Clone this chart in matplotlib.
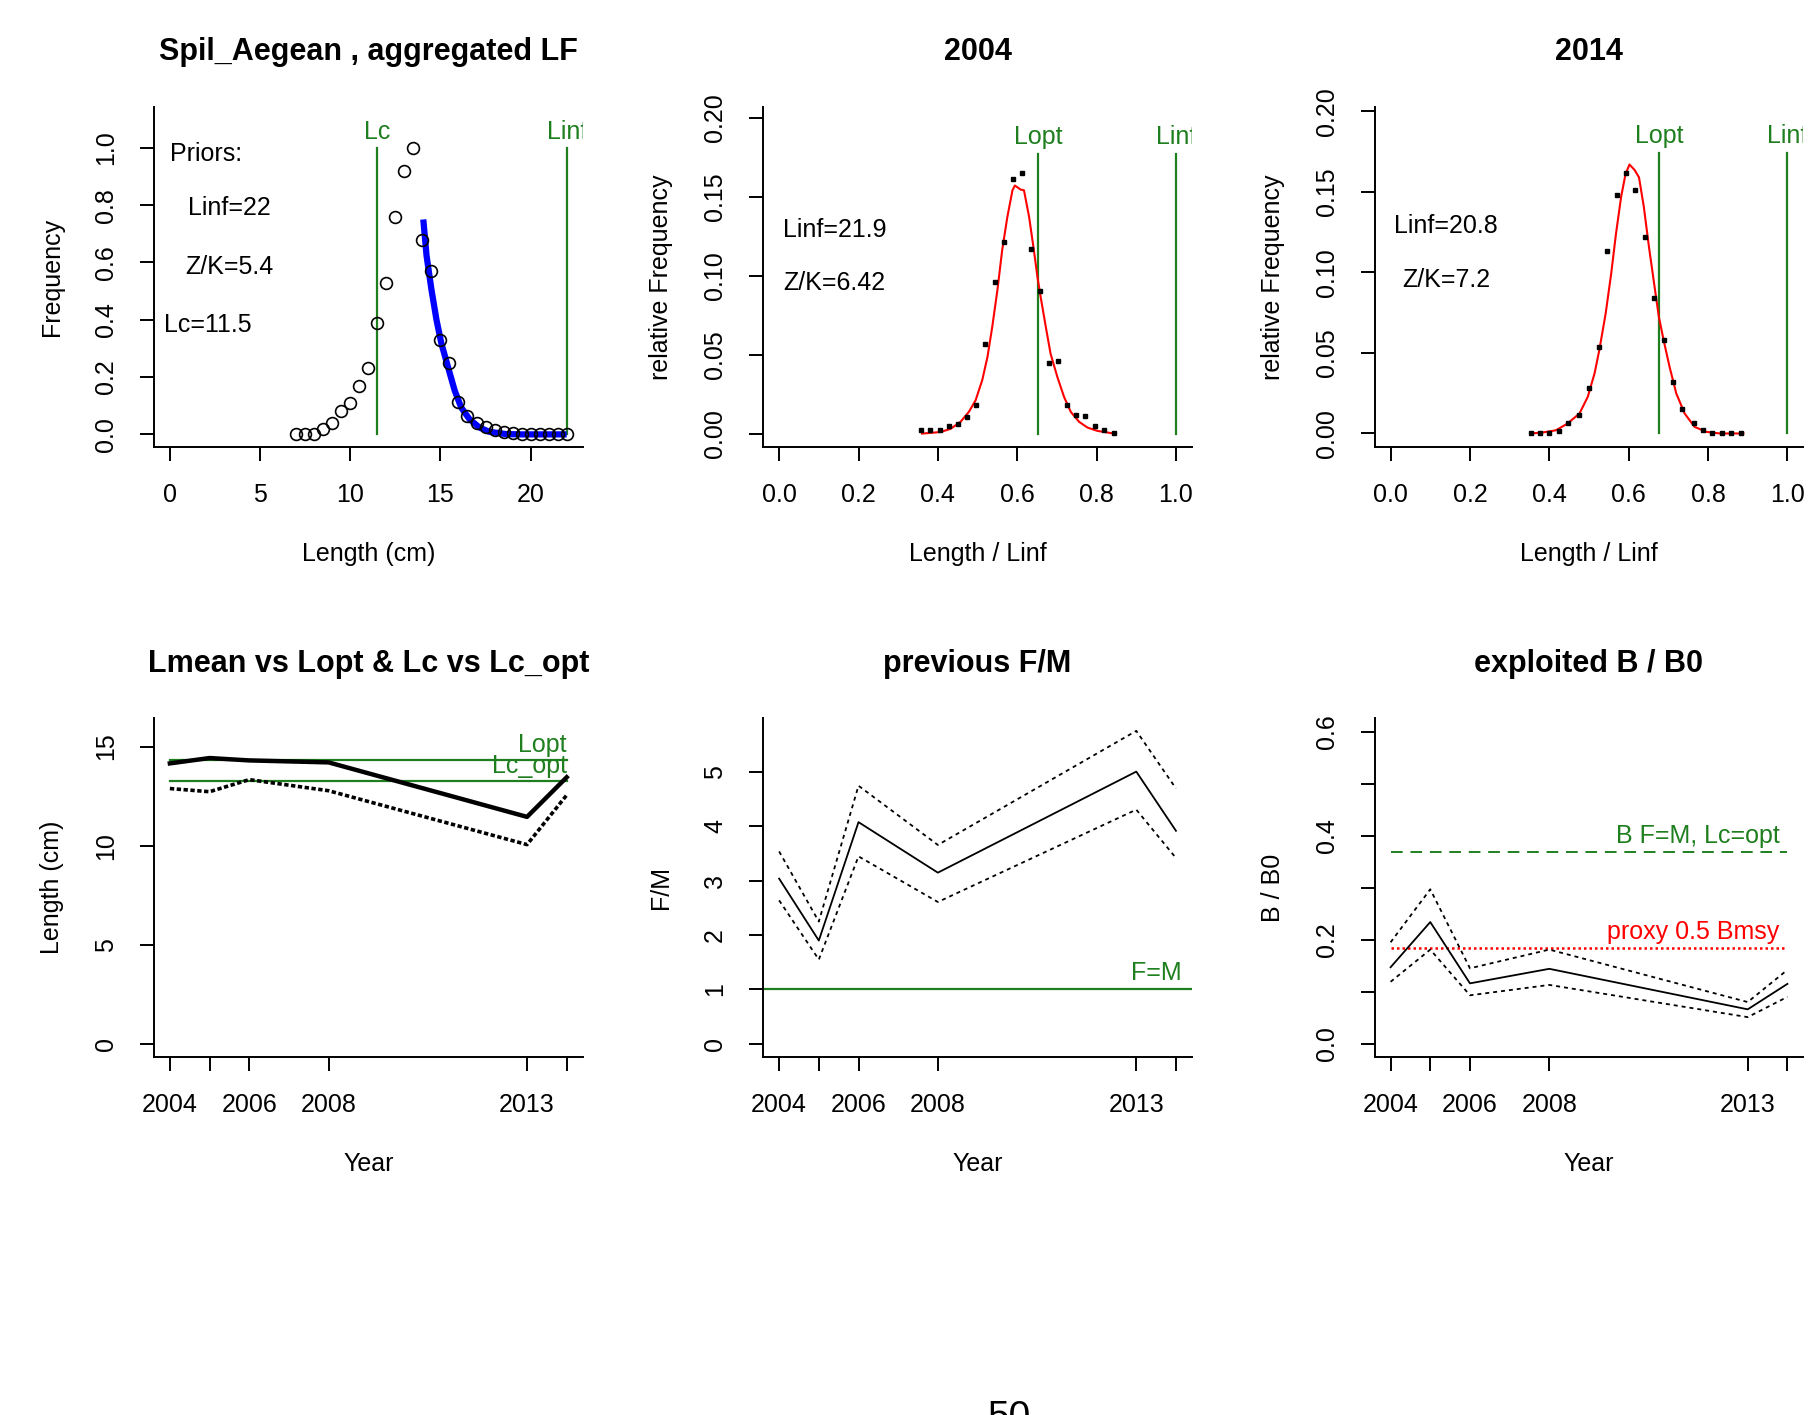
import numpy as np
import matplotlib
matplotlib.use('Agg')
import matplotlib.pyplot as plt

plt.rcParams['font.family'] = ['Liberation Sans', 'DejaVu Sans']

green = '#1f7f1f'

# --- aggregated LF (panel 1)
lf_len = [7.0, 7.5, 8.0, 8.5, 9.0, 9.5, 10.0, 10.5, 11.0, 11.5, 12.0, 12.5, 13.0, 13.5,
          14.0, 14.5, 15.0, 15.5, 16.0, 16.5, 17.0, 17.5, 18.0, 18.5, 19.0, 19.5, 20.0,
          20.5, 21.0, 21.5, 22.0]
lf_freq = [0.0, 0.0, 0.0, 0.02, 0.04, 0.08, 0.11, 0.17, 0.23, 0.39, 0.53, 0.76, 0.92, 1.0,
           0.68, 0.57, 0.33, 0.25, 0.112, 0.065, 0.04, 0.025, 0.015, 0.008, 0.004, 0.002,
           0.001, 0.0, 0.0, 0.0, 0.0]
fit_len = [14.05, 14.23, 14.5, 14.78, 15.05, 15.42, 15.79, 16.15, 16.61, 17.16, 17.71,
           18.63, 19.5, 20.5, 21.5, 22.0]
fit_freq = [0.75, 0.624, 0.506, 0.40, 0.318, 0.235, 0.153, 0.094, 0.053, 0.024, 0.009,
            0.001, 0.0, 0.0, 0.0, 0.0]
prior_linf = 22
prior_zk = 5.4
prior_lc = 11.5

# --- 2004 relative LF (panel 2)
x04 = [0.358, 0.381, 0.405, 0.428, 0.451, 0.474, 0.497, 0.52, 0.543, 0.566, 0.589, 0.612,
       0.635, 0.657, 0.68, 0.703, 0.726, 0.749, 0.772, 0.795, 0.818, 0.843]
y04 = [0.002, 0.002, 0.0025, 0.0046, 0.0063, 0.0105, 0.018, 0.0565, 0.096, 0.121, 0.161,
       0.165, 0.117, 0.09, 0.0447, 0.046, 0.018, 0.0116, 0.011, 0.0046, 0.0021, 0.0005]
fx04 = [0.36, 0.381, 0.407, 0.432, 0.457, 0.478, 0.495, 0.512, 0.525, 0.537, 0.55, 0.562,
        0.575, 0.588, 0.594, 0.609, 0.617, 0.63, 0.642, 0.651, 0.659, 0.672, 0.684, 0.701,
        0.718, 0.735, 0.756, 0.777, 0.802, 0.844]
fy04 = [0.0, 0.0004, 0.001, 0.003, 0.0074, 0.0137, 0.021, 0.034, 0.0485, 0.0675, 0.0907,
        0.116, 0.137, 0.154, 0.157, 0.1544, 0.154, 0.137, 0.116, 0.099, 0.0865, 0.0675,
        0.0506, 0.0359, 0.0232, 0.0137, 0.0074, 0.0038, 0.0017, 0.0]
lopt04 = 0.652
linf04 = 21.9
zk04 = 6.42

# --- 2014 relative LF (panel 3)
x14 = [0.354, 0.376, 0.4, 0.424, 0.448, 0.474, 0.501, 0.524, 0.546, 0.57, 0.594, 0.617,
       0.642, 0.665, 0.688, 0.712, 0.734, 0.765, 0.788, 0.811, 0.834, 0.859, 0.882]
y14 = [0.0, 0.0, 0.0, 0.0017, 0.0062, 0.0114, 0.028, 0.0539, 0.113, 0.148, 0.162, 0.151,
       0.122, 0.084, 0.058, 0.032, 0.0149, 0.0062, 0.002, 0.0, 0.0, 0.0, 0.0]
fx14 = [0.354, 0.383, 0.417, 0.446, 0.476, 0.497, 0.514, 0.526, 0.542, 0.556, 0.568, 0.581,
        0.592, 0.602, 0.615, 0.626, 0.638, 0.651, 0.663, 0.676, 0.688, 0.703, 0.72, 0.741,
        0.766, 0.796, 0.83, 0.889]
fy14 = [0.0, 0.0006, 0.002, 0.0062, 0.0124, 0.0228, 0.0373, 0.0518, 0.0745, 0.0994, 0.124,
        0.147, 0.161, 0.167, 0.1636, 0.159, 0.141, 0.116, 0.095, 0.0725, 0.058, 0.0414,
        0.0248, 0.0124, 0.0041, 0.001, 0.0, 0.0]
lopt14 = 0.676
linf14 = 20.8
zk14 = 7.2

# --- time series (panels 4-6)
years = [2004, 2005, 2006, 2008, 2013, 2014]
year_labels = ['2004', '', '2006', '2008', '2013', '']
lmean = [14.15, 14.42, 14.3, 14.2, 11.45, 13.45]
lc = [12.88, 12.72, 13.33, 12.77, 10.05, 12.55]
lopt_cm = 14.3
lc_opt = 13.27
fm = [3.04, 1.90, 4.08, 3.15, 5.01, 3.92]
fm_lo = [2.64, 1.55, 3.45, 2.61, 4.31, 3.42]
fm_hi = [3.54, 2.25, 4.75, 3.66, 5.76, 4.70]
bb0 = [0.147, 0.234, 0.116, 0.144, 0.066, 0.115]
bb0_lo = [0.119, 0.181, 0.093, 0.113, 0.051, 0.090]
bb0_hi = [0.195, 0.297, 0.145, 0.181, 0.080, 0.142]
b_fm = 0.368
b_proxy = 0.184

fig = plt.figure(figsize=(18.16, 14.15), dpi=100)

lefts = [0.0848, 0.4203, 0.757]
w = 0.236
ax1 = fig.add_axes([lefts[0], 0.6841, w, 0.2406])
ax2 = fig.add_axes([lefts[1], 0.6841, w, 0.2406])
ax3 = fig.add_axes([lefts[2], 0.6841, w, 0.2406])
ax4 = fig.add_axes([lefts[0], 0.2529, w, 0.2398])
ax5 = fig.add_axes([lefts[1], 0.2529, w, 0.2398])
ax6 = fig.add_axes([lefts[2], 0.2529, w, 0.2398])


def style(ax, title, xlabel, ylabel):
    for s in ['top', 'right']:
        ax.spines[s].set_visible(False)
    for s in ['left', 'bottom']:
        ax.spines[s].set_linewidth(1.4)
    ax.tick_params(length=10, width=1.4, pad=16, labelsize=18, direction='out')
    ax.text(0.5, 1.16, title, transform=ax.transAxes, ha='center', va='center',
            fontsize=22, fontweight='bold')
    ax.set_xlabel(xlabel, fontsize=18)
    ax.set_ylabel(ylabel, fontsize=18)
    ax.yaxis.set_label_coords(-0.21, 0.5)
    ax.xaxis.set_label_coords(0.5, -0.28)


# panel 1
ax1.plot([prior_lc, prior_lc], [0, 1.0], color=green, lw=1.6)
ax1.plot([prior_linf, prior_linf], [0, 1.0], color=green, lw=1.6)
ax1.plot(fit_len, fit_freq, color='blue', lw=4.5, solid_capstyle='butt', zorder=3)
ax1.plot(lf_len, lf_freq, 'o', mfc='none', mec='black', ms=8.5, mew=1.2, zorder=4)
ax1.text(prior_lc, 1.056, 'Lc', color=green, fontsize=18, ha='center', va='center')
ax1.text(prior_linf, 1.056, 'Linf', color=green, fontsize=18, ha='center', va='center',
         clip_on=True)
ax1.text(2.0, 0.98, 'Priors:', fontsize=18, ha='center', va='center')
ax1.text(3.3, 0.79, 'Linf=%g' % prior_linf, fontsize=18, ha='center', va='center')
ax1.text(3.3, 0.585, 'Z/K=%g' % prior_zk, fontsize=18, ha='center', va='center')
ax1.text(2.1, 0.38, 'Lc=%g' % prior_lc, fontsize=18, ha='center', va='center')
ax1.set_xlim(-0.88, 22.88)
ax1.set_ylim(-0.044, 1.144)
ax1.set_xticks([0, 5, 10, 15, 20])
ax1.set_yticks([0, 0.2, 0.4, 0.6, 0.8, 1.0], ['0.0', '0.2', '0.4', '0.6', '0.8', '1.0'],
               rotation=90, va='center')
style(ax1, 'Spil_Aegean , aggregated LF', 'Length (cm)', 'Frequency')

# panels 2 and 3
for ax, xs, ys, fx, fy, lopt, linf, zk, yl, top, title in [
        (ax2, x04, y04, fx04, fy04, lopt04, linf04, zk04, (-0.0085, 0.207), 0.177, '2004'),
        (ax3, x14, y14, fx14, fy14, lopt14, linf14, zk14, (-0.0084, 0.203), 0.174, '2014')]:
    ax.plot([lopt, lopt], [0, top], color=green, lw=1.6)
    ax.plot([1.0, 1.0], [0, top], color=green, lw=1.6)
    ax.plot(fx, fy, color='red', lw=1.5)
    ax.plot(xs, ys, 's', color='black', ms=2.3)
    ax.text(lopt, top + 0.011, 'Lopt', color=green, fontsize=18, ha='center', va='center')
    ax.text(1.0, top + 0.011, 'Linf', color=green, fontsize=18, ha='center', va='center',
            clip_on=True)
    ax.text(0.14, 0.129, 'Linf=%g' % linf, fontsize=18, ha='center', va='center')
    ax.text(0.14, 0.095, 'Z/K=%g' % zk, fontsize=18, ha='center', va='center')
    ax.set_xlim(-0.04, 1.04)
    ax.set_ylim(*yl)
    ax.set_xticks([0, 0.2, 0.4, 0.6, 0.8, 1.0], ['0.0', '0.2', '0.4', '0.6', '0.8', '1.0'])
    ax.set_yticks([0, 0.05, 0.1, 0.15, 0.2], ['0.00', '0.05', '0.10', '0.15', '0.20'],
                  rotation=90, va='center')
    style(ax, title, 'Length / Linf', 'relative Frequency')

# panel 4
ax4.plot([years[0], years[-1]], [lopt_cm, lopt_cm], color=green, lw=1.6)
ax4.plot([years[0], years[-1]], [lc_opt, lc_opt], color=green, lw=1.6)
ax4.plot(years, lmean, color='black', lw=3.2)
ax4.plot(years, lc, color='black', lw=2.6, linestyle=(0, (1.2, 0.7)))
ax4.text(2014, 15.07, 'Lopt', color=green, fontsize=18, ha='right', va='center')
ax4.text(2014, 14.03, 'Lc_opt', color=green, fontsize=18, ha='right', va='center')
ax4.set_xlim(2003.6, 2014.4)
ax4.set_ylim(-0.68, 16.45)
ax4.set_xticks(years, year_labels)
ax4.set_yticks([0, 5, 10, 15], ['0', '5', '10', '15'], rotation=90, va='center')
style(ax4, 'Lmean vs Lopt & Lc vs Lc_opt', 'Year', 'Length (cm)')

# panel 5
ax5.axhline(1.0, color=green, lw=1.6)
ax5.plot(years, fm, color='black', lw=1.3)
ax5.plot(years, fm_lo, color='black', lw=1.3, linestyle=(0, (2.2, 2.2)))
ax5.plot(years, fm_hi, color='black', lw=1.3, linestyle=(0, (2.2, 2.2)))
ax5.text(2014.15, 1.3, 'F=M', color=green, fontsize=18, ha='right', va='center')
ax5.set_xlim(2003.6, 2014.4)
ax5.set_ylim(-0.246, 6.0)
ax5.set_xticks(years, year_labels)
ax5.set_yticks([0, 1, 2, 3, 4, 5], ['0', '1', '2', '3', '4', '5'], rotation=90, va='center')
style(ax5, 'previous F/M', 'Year', 'F/M')

# panel 6
ax6.plot([years[0], years[-1]], [b_fm, b_fm], color=green, lw=1.4,
         linestyle=(0, (6, 4)))
ax6.plot([years[0], years[-1]], [b_proxy, b_proxy], color='red', lw=1.8,
         linestyle=(0, (1, 1.2)))
ax6.plot(years, bb0, color='black', lw=1.3)
ax6.plot(years, bb0_lo, color='black', lw=1.3, linestyle=(0, (2.2, 2.2)))
ax6.plot(years, bb0_hi, color='black', lw=1.3, linestyle=(0, (2.2, 2.2)))
ax6.text(2013.8, 0.40, 'B F=M, Lc=opt', color=green, fontsize=18, ha='right', va='center')
ax6.text(2013.8, 0.215, 'proxy 0.5 Bmsy', color='red', fontsize=18, ha='right',
         va='center')
ax6.set_xlim(2003.6, 2014.4)
ax6.set_ylim(-0.026, 0.627)
ax6.set_xticks(years, year_labels)
ax6.set_yticks([0, 0.1, 0.2, 0.3, 0.4, 0.5, 0.6], ['0.0', '', '0.2', '', '0.4', '', '0.6'],
               rotation=90, va='center')
style(ax6, 'exploited B / B0', 'Year', 'B / B0')

# page number, cut by the lower edge as in the scan
fig.text(0.5556, 1 - 1400 / 1415, '50', fontsize=28, ha='center', va='top')

fig.savefig('out.png', dpi=100)
